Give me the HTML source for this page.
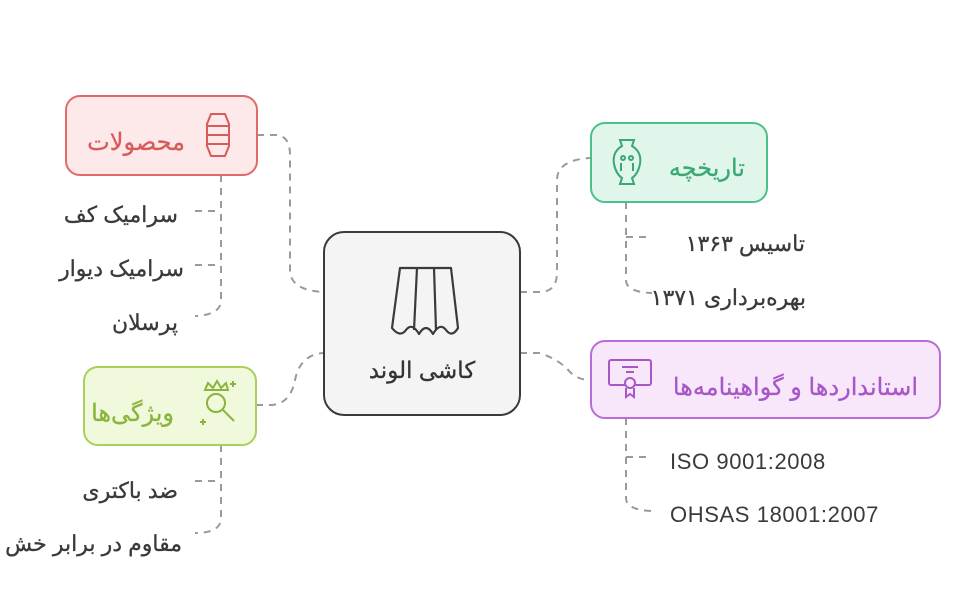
<!DOCTYPE html>
<html><head><meta charset="utf-8"><style>
body{margin:0;background:#fff;}
svg text{font-family:"Liberation Sans","Noto Sans CJK SC",sans-serif;}
</style></head><body>
<svg width="971" height="600" viewBox="0 0 971 600" xmlns="http://www.w3.org/2000/svg">
<g fill="none" stroke="#9a9a9a" stroke-width="2" stroke-dasharray="7 6">
<path d="M257 135 H275 Q290 135 290 155 V270 Q290 290 323 292"/>
<path d="M256 405 H270 Q290 405 295 380 Q300 355 323 353"/>
<path d="M520 292 H540 Q557 292 557 272 V180 Q557 160 590 158"/>
<path d="M520 353 H540 Q560 360 570 372 Q578 380 590 380"/>
<path d="M221 175 V300 Q221 315 195 316"/>
<path d="M195 211 H221 M195 265 H221"/>
<path d="M221 445 V518 Q221 533 195 533"/>
<path d="M195 481 H221"/>
<path d="M626 202 V280 Q626 292 652 293"/>
<path d="M626 237 H652"/>
<path d="M626 418 V498 Q626 510 652 511"/>
<path d="M626 457 H652"/>
</g>
<rect x="324" y="232" width="196" height="183" rx="20" fill="#f4f4f4" stroke="#3a3a3a" stroke-width="2"/>
<g fill="none" stroke="#3a3a3a" stroke-width="2.2" stroke-linejoin="round">
<path d="M400 268 H451 L458 328 Q452 338 446 330 Q440 322 433 334 Q426 322 419 334 Q412 322 406 330 Q400 338 392 328 Z"/>
<path d="M417 268 L414 330 M434 268 L436 330"/>
</g>
<text x="422" y="378" font-size="23" fill="#333" stroke="#333" stroke-width="0.3" text-anchor="middle">كاشی الوند</text>

<g stroke-width="0.3">
<rect x="66" y="96" width="191" height="79" rx="14" fill="#fde9e9" stroke="#e06a6a" stroke-width="2"/>
<text x="185" y="150" font-size="24" fill="#d85b5b" stroke="#d85b5b" text-anchor="end">محصولات</text>
<rect x="84" y="367" width="172" height="78" rx="14" fill="#f1f9dc" stroke="#a8d05a" stroke-width="2"/>
<text x="174" y="421" font-size="24" fill="#8ab53c" stroke="#8ab53c" text-anchor="end">ویژگی‌ها</text>
<rect x="591" y="123" width="176" height="79" rx="14" fill="#e1f6eb" stroke="#4dbf8a" stroke-width="2"/>
<text x="745" y="176" font-size="24" fill="#3aa874" stroke="#3aa874" text-anchor="end">تاریخچه</text>
<rect x="591" y="341" width="349" height="77" rx="14" fill="#f8e7fb" stroke="#b96bd6" stroke-width="2"/>
<text x="918" y="395" font-size="24" fill="#a857c8" stroke="#a857c8" text-anchor="end">استانداردها و گواهینامه‌ها</text>
</g>
<g fill="none" stroke="#d85b5b" stroke-width="2"><path d="M211 114 H225 L229 124 V146 L225 156 H211 L207 146 V124 Z M207 126 H229 M207 135 H229 M207 144 H229"/></g>
<g fill="none" stroke="#8ab53c" stroke-width="2"><path d="M205 390 L208 383 L213 388 L217 381 L221 388 L226 383 L228 390 Z"/><circle cx="216" cy="403" r="9"/><path d="M223 410 L234 421 M230 384 h6 M233 381 v6 M200 422 h6 M203 419 v6"/></g>
<g fill="none" stroke="#3aa874" stroke-width="2"><path d="M620 140 h14 l-2 6 q10 6 8 18 q-2 10 -8 14 l2 6 h-14 l2 -6 q-6 -4 -8 -14 q-2 -12 8 -18 z"/><circle cx="623" cy="158" r="2"/><circle cx="631" cy="158" r="2"/><path d="M621 163 v8 M633 163 v8"/></g>
<g fill="none" stroke="#a857c8" stroke-width="2"><rect x="609" y="360" width="42" height="25" rx="2"/><path d="M622 367 h16 M626 372 h8"/><circle cx="630" cy="383" r="5" fill="#f8e7fb"/><path d="M626 388 v9 l4 -3 l4 3 v-9"/></g>

<g font-size="22" fill="#3a3a3a" stroke="#3a3a3a" stroke-width="0.3">
<text x="178" y="222" text-anchor="end">سرامیک کف</text>
<text x="184" y="276" text-anchor="end">سرامیک دیوار</text>
<text x="178" y="330" text-anchor="end">پرسلان</text>
<text x="178" y="498" text-anchor="end">ضد باکتری</text>
<text x="182" y="551" text-anchor="end">مقاوم در برابر خش</text>
<text x="805" y="251" text-anchor="end">تاسیس ۱۳۶۳</text>
<text x="806" y="305" text-anchor="end">بهره‌برداری ۱۳۷۱</text>
</g>
<g font-size="22" fill="#3a3a3a" letter-spacing="0.6">
<text x="670" y="469">ISO 9001:2008</text>
<text x="670" y="522">OHSAS 18001:2007</text>
</g>
</svg>
</body></html>
